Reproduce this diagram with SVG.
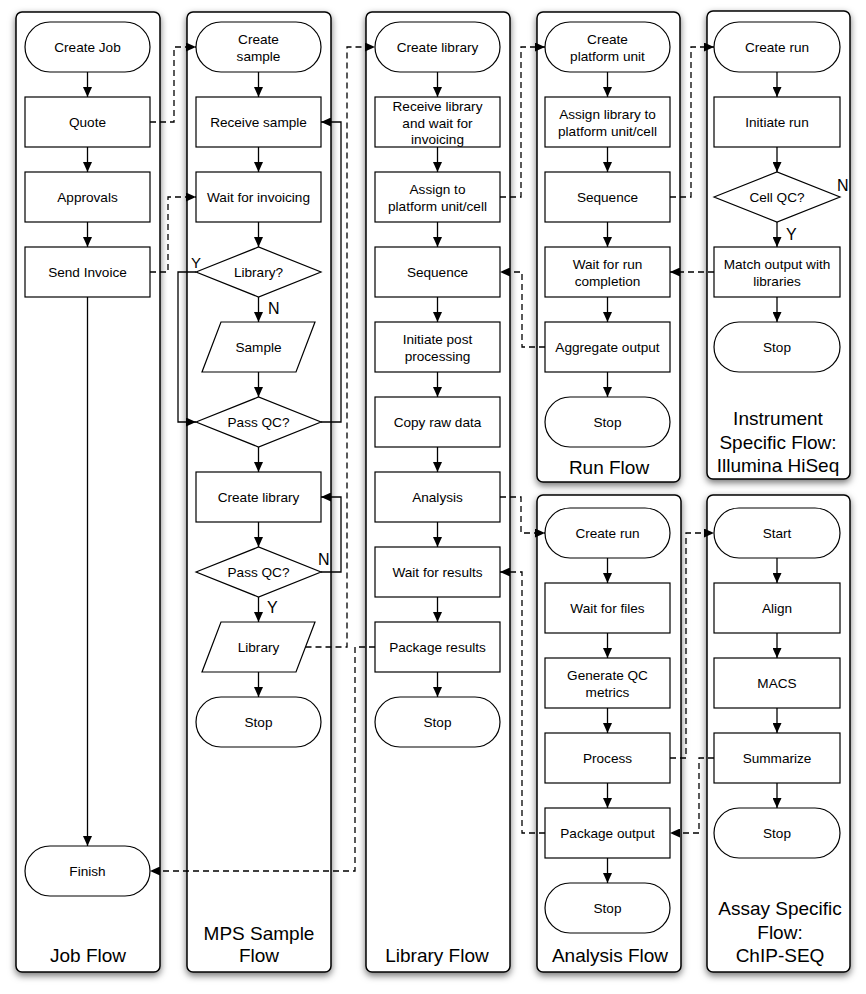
<svg xmlns="http://www.w3.org/2000/svg" width="866" height="994" viewBox="0 0 866 994">
<defs>
<filter id="sh" x="-10%" y="-5%" width="120%" height="110%">
<feDropShadow dx="0" dy="3" stdDeviation="3.5" flood-color="#000" flood-opacity="0.55"/>
</filter>
<marker id="a" markerWidth="10" markerHeight="9" refX="10" refY="4.5" orient="auto" markerUnits="userSpaceOnUse">
<path d="M0,0L10,4.5L0,9z" fill="#000"/>
</marker>
</defs>
<style>
.lane{fill:#fff;stroke:#000;stroke-width:1.5;filter:url(#sh)}
.n{fill:#fff;stroke:#000;stroke-width:1.2}
text{font-family:"Liberation Sans",Arial,Helvetica,sans-serif;fill:#000}
.t{font-size:13.6px;text-anchor:middle}
.ti{font-size:19px;text-anchor:middle}
.lb{font-size:16px}
.c{fill:none;stroke:#000;stroke-width:1.3;marker-end:url(#a)}
.d{stroke-dasharray:6,4}
</style>

<g id="lanes">
<g id="lane-job"><rect class="lane" x="16" y="12" width="144" height="960" rx="6"/><text class="ti" x="88" y="962">Job Flow</text></g>
<g id="lane-mps"><rect class="lane" x="187" y="12" width="144" height="960" rx="6"/><text class="ti" x="259" y="940">MPS Sample</text><text class="ti" x="259" y="962">Flow</text></g>
<g id="lane-library"><rect class="lane" x="366" y="12" width="144" height="960" rx="6"/><text class="ti" x="437" y="962">Library Flow</text></g>
<g id="lane-run"><rect class="lane" x="537" y="12" width="143" height="470" rx="6"/><text class="ti" x="609" y="474">Run Flow</text></g>
<g id="lane-instrument"><rect class="lane" x="707" y="11" width="143" height="468" rx="6"/><text class="ti" x="778" y="425">Instrument</text><text class="ti" x="778" y="449">Specific Flow:</text><text class="ti" x="778" y="472">Illumina HiSeq</text></g>
<g id="lane-analysis"><rect class="lane" x="537" y="495" width="144" height="477" rx="6"/><text class="ti" x="610" y="962">Analysis Flow</text></g>
<g id="lane-assay"><rect class="lane" x="707" y="495" width="143" height="477" rx="6"/><text class="ti" x="780" y="915">Assay Specific</text><text class="ti" x="780" y="939">Flow:</text><text class="ti" x="780" y="962">ChIP-SEQ</text></g>
</g>

<g id="connectors">
<!-- Job flow -->
<path class="c" d="M87.5,72V97"/>
<path class="c" d="M87.5,147V172"/>
<path class="c" d="M87.5,222V247"/>
<path class="c" d="M87.5,297V846"/>
<!-- MPS -->
<path class="c" d="M258.5,72V97"/>
<path class="c" d="M258.5,147V172"/>
<path class="c" d="M258.5,222V247"/>
<path class="c" d="M258.5,297V322"/>
<path class="c" d="M258.5,372V397"/>
<path class="c" d="M258.5,447V472"/>
<path class="c" d="M258.5,522V547"/>
<path class="c" d="M258.5,597V622"/>
<path class="c" d="M258.5,672V697"/>
<path class="c" d="M196,272H178V422H196"/>
<path class="c" d="M321,422H341V122H321"/>
<path class="c" d="M321,572H341V497H321"/>
<!-- Library -->
<path class="c" d="M437.5,72V97"/>
<path class="c" d="M437.5,147V172"/>
<path class="c" d="M437.5,222V247"/>
<path class="c" d="M437.5,297V322"/>
<path class="c" d="M437.5,372V397"/>
<path class="c" d="M437.5,447V472"/>
<path class="c" d="M437.5,522V547"/>
<path class="c" d="M437.5,597V622"/>
<path class="c" d="M437.5,672V697"/>
<!-- Run -->
<path class="c" d="M607.5,72V97"/>
<path class="c" d="M607.5,147V172"/>
<path class="c" d="M607.5,222V247"/>
<path class="c" d="M607.5,297V322"/>
<path class="c" d="M607.5,372V397"/>
<!-- Instrument -->
<path class="c" d="M777,72V97"/>
<path class="c" d="M777,147V172"/>
<path class="c" d="M777,222V247"/>
<path class="c" d="M777,297V322"/>
<!-- Analysis -->
<path class="c" d="M607.5,558V583"/>
<path class="c" d="M607.5,633V658"/>
<path class="c" d="M607.5,708V733"/>
<path class="c" d="M607.5,783V808"/>
<path class="c" d="M607.5,858V883"/>
<!-- Assay -->
<path class="c" d="M777,558V583"/>
<path class="c" d="M777,633V658"/>
<path class="c" d="M777,708V733"/>
<path class="c" d="M777,783V808"/>
<!-- dashed cross-flow -->
<path class="c d" d="M150,122H174V47H196"/>
<path class="c d" d="M150,272H168V197H196"/>
<path class="c d" d="M305.5,647H347V47H375"/>
<path class="c d" d="M375,647H355V871H150"/>
<path class="c d" d="M500,197H521V47H545"/>
<path class="c d" d="M670,197H691V47H714"/>
<path class="c d" d="M714,272H670"/>
<path class="c d" d="M545,347H522V272H500"/>
<path class="c d" d="M500,497H521V533H545"/>
<path class="c d" d="M545,833H522V572H500"/>
<path class="c d" d="M670,758H686V533H714"/>
<path class="c d" d="M714,758H699V833H670"/>
<!-- labels -->
<text class="lb" x="191" y="268" style="font-size:15px">Y</text>
<text class="lb" x="268" y="314">N</text>
<text class="lb" x="318" y="565">N</text>
<text class="lb" x="267" y="613">Y</text>
<text class="lb" x="837" y="191">N</text>
<text class="lb" x="786" y="240">Y</text>
</g>

<!-- Job Flow nodes -->
<g id="job-create"><rect class="n" x="25" y="22" width="125" height="50" rx="25"/><text class="t" x="87.5" y="52">Create Job</text></g>
<g id="job-quote"><rect class="n" x="25" y="97" width="125" height="50"/><text class="t" x="87.5" y="127">Quote</text></g>
<g id="job-approvals"><rect class="n" x="25" y="172" width="125" height="50"/><text class="t" x="87.5" y="202">Approvals</text></g>
<g id="job-invoice"><rect class="n" x="25" y="247" width="125" height="50"/><text class="t" x="87.5" y="277">Send Invoice</text></g>
<g id="job-finish"><rect class="n" x="25" y="846" width="125" height="50" rx="25"/><text class="t" x="87.5" y="876">Finish</text></g>

<!-- MPS Sample Flow nodes -->
<g id="mps-create"><rect class="n" x="196" y="22" width="125" height="50" rx="25"/><text class="t" x="258.5" y="44">Create</text><text class="t" x="258.5" y="61">sample</text></g>
<g id="mps-receive"><rect class="n" x="196" y="97" width="125" height="50"/><text class="t" x="258.5" y="127">Receive sample</text></g>
<g id="mps-wait"><rect class="n" x="196" y="172" width="125" height="50"/><text class="t" x="258.5" y="202">Wait for invoicing</text></g>
<g id="mps-islibrary"><path class="n" d="M196,272L258.5,247L321,272L258.5,297Z"/><text class="t" x="258.5" y="277">Library?</text></g>
<g id="mps-sample"><path class="n" d="M221,322H315L296,372H202Z"/><text class="t" x="258.5" y="352">Sample</text></g>
<g id="mps-passqc1"><path class="n" d="M196,422L258.5,397L321,422L258.5,447Z"/><text class="t" x="258.5" y="427">Pass QC?</text></g>
<g id="mps-createlib"><rect class="n" x="196" y="472" width="125" height="50"/><text class="t" x="258.5" y="502">Create library</text></g>
<g id="mps-passqc2"><path class="n" d="M196,572L258.5,547L321,572L258.5,597Z"/><text class="t" x="258.5" y="577">Pass QC?</text></g>
<g id="mps-library"><path class="n" d="M221,622H315L296,672H202Z"/><text class="t" x="258.5" y="652">Library</text></g>
<g id="mps-stop"><rect class="n" x="196" y="697" width="125" height="50" rx="25"/><text class="t" x="258.5" y="727">Stop</text></g>

<!-- Library Flow nodes -->
<g id="lib-create"><rect class="n" x="375" y="22" width="125" height="50" rx="25"/><text class="t" x="437.5" y="52">Create library</text></g>
<g id="lib-receive"><rect class="n" x="375" y="97" width="125" height="50"/><text class="t" x="437.5" y="111">Receive library</text><text class="t" x="437.5" y="127.5">and wait for</text><text class="t" x="437.5" y="144">invoicing</text></g>
<g id="lib-assign"><rect class="n" x="375" y="172" width="125" height="50"/><text class="t" x="437.5" y="194">Assign to</text><text class="t" x="437.5" y="211">platform unit/cell</text></g>
<g id="lib-sequence"><rect class="n" x="375" y="247" width="125" height="50"/><text class="t" x="437.5" y="277">Sequence</text></g>
<g id="lib-initiate"><rect class="n" x="375" y="322" width="125" height="50"/><text class="t" x="437.5" y="344">Initiate post</text><text class="t" x="437.5" y="361">processing</text></g>
<g id="lib-copy"><rect class="n" x="375" y="397" width="125" height="50"/><text class="t" x="437.5" y="427">Copy raw data</text></g>
<g id="lib-analysis"><rect class="n" x="375" y="472" width="125" height="50"/><text class="t" x="437.5" y="502">Analysis</text></g>
<g id="lib-wait"><rect class="n" x="375" y="547" width="125" height="50"/><text class="t" x="437.5" y="577">Wait for results</text></g>
<g id="lib-package"><rect class="n" x="375" y="622" width="125" height="50"/><text class="t" x="437.5" y="652">Package results</text></g>
<g id="lib-stop"><rect class="n" x="375" y="697" width="125" height="50" rx="25"/><text class="t" x="437.5" y="727">Stop</text></g>

<!-- Run Flow nodes -->
<g id="run-create"><rect class="n" x="545" y="22" width="125" height="50" rx="25"/><text class="t" x="607.5" y="44">Create</text><text class="t" x="607.5" y="61">platform unit</text></g>
<g id="run-assign"><rect class="n" x="545" y="97" width="125" height="50"/><text class="t" x="607.5" y="119">Assign library to</text><text class="t" x="607.5" y="136">platform unit/cell</text></g>
<g id="run-sequence"><rect class="n" x="545" y="172" width="125" height="50"/><text class="t" x="607.5" y="202">Sequence</text></g>
<g id="run-wait"><rect class="n" x="545" y="247" width="125" height="50"/><text class="t" x="607.5" y="269">Wait for run</text><text class="t" x="607.5" y="286">completion</text></g>
<g id="run-aggregate"><rect class="n" x="545" y="322" width="125" height="50"/><text class="t" x="607.5" y="352">Aggregate output</text></g>
<g id="run-stop"><rect class="n" x="545" y="397" width="125" height="50" rx="25"/><text class="t" x="607.5" y="427">Stop</text></g>

<!-- Instrument Specific Flow nodes -->
<g id="ins-create"><rect class="n" x="714" y="22" width="126" height="50" rx="25"/><text class="t" x="777" y="52">Create run</text></g>
<g id="ins-initiate"><rect class="n" x="714" y="97" width="126" height="50"/><text class="t" x="777" y="127">Initiate run</text></g>
<g id="ins-cellqc"><path class="n" d="M714,197L777,172L840,197L777,222Z"/><text class="t" x="777" y="202">Cell QC?</text></g>
<g id="ins-match"><rect class="n" x="714" y="247" width="126" height="50"/><text class="t" x="777" y="269">Match output with</text><text class="t" x="777" y="286">libraries</text></g>
<g id="ins-stop"><rect class="n" x="714" y="322" width="126" height="50" rx="25"/><text class="t" x="777" y="352">Stop</text></g>

<!-- Analysis Flow nodes -->
<g id="ana-create"><rect class="n" x="545" y="508" width="125" height="50" rx="25"/><text class="t" x="607.5" y="538">Create run</text></g>
<g id="ana-wait"><rect class="n" x="545" y="583" width="125" height="50"/><text class="t" x="607.5" y="613">Wait for files</text></g>
<g id="ana-qc"><rect class="n" x="545" y="658" width="125" height="50"/><text class="t" x="607.5" y="680">Generate QC</text><text class="t" x="607.5" y="697">metrics</text></g>
<g id="ana-process"><rect class="n" x="545" y="733" width="125" height="50"/><text class="t" x="607.5" y="763">Process</text></g>
<g id="ana-package"><rect class="n" x="545" y="808" width="125" height="50"/><text class="t" x="607.5" y="838">Package output</text></g>
<g id="ana-stop"><rect class="n" x="545" y="883" width="125" height="50" rx="25"/><text class="t" x="607.5" y="913">Stop</text></g>

<!-- Assay Specific Flow nodes -->
<g id="asy-start"><rect class="n" x="714" y="508" width="126" height="50" rx="25"/><text class="t" x="777" y="538">Start</text></g>
<g id="asy-align"><rect class="n" x="714" y="583" width="126" height="50"/><text class="t" x="777" y="613">Align</text></g>
<g id="asy-macs"><rect class="n" x="714" y="658" width="126" height="50"/><text class="t" x="777" y="688">MACS</text></g>
<g id="asy-summarize"><rect class="n" x="714" y="733" width="126" height="50"/><text class="t" x="777" y="763">Summarize</text></g>
<g id="asy-stop"><rect class="n" x="714" y="808" width="126" height="50" rx="25"/><text class="t" x="777" y="838">Stop</text></g>
</svg>
